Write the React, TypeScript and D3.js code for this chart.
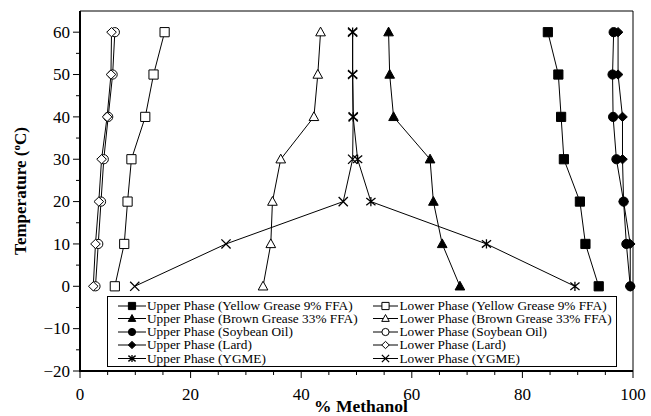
import React from 'react';
import * as d3 from 'd3';

const temps = [0, 10, 20, 30, 40, 50, 60];

const upperYellow = [93.8, 91.4, 90.4, 87.5, 87.0, 86.5, 84.6];
const upperBrown = [68.7, 65.5, 63.9, 63.3, 56.7, 56.0, 55.8];
const upperSoy = [99.5, 98.8, 98.3, 97.0, 96.4, 96.3, 96.5];
const upperLard = [99.5, 99.5, 98.3, 98.1, 98.1, 97.3, 97.3];
const upperYGME = [89.5, 73.5, 52.6, 50.2, 49.4, 49.3, 49.3];

const lowerYellow = [6.3, 8.0, 8.6, 9.3, 11.8, 13.3, 15.3];
const lowerBrown = [33.1, 34.5, 34.8, 36.3, 42.3, 43.0, 43.5];
const lowerSoy = [2.8, 3.3, 3.8, 4.3, 5.1, 5.9, 6.3];
const lowerLard = [2.4, 2.8, 3.4, 3.9, 4.9, 5.6, 5.7];
const lowerYGME = [9.9, 26.4, 47.6, 49.3, 49.4, 49.3, 49.3];

const xTicks = [0, 20, 40, 60, 80, 100];
const yTicks = [-20, -10, 0, 10, 20, 30, 40, 50, 60];

const upperSeries = [
  { name: 'Upper Phase (Yellow Grease 9% FFA)', values: upperYellow, shape: 'square' },
  { name: 'Upper Phase (Brown Grease 33% FFA)', values: upperBrown, shape: 'triangle' },
  { name: 'Upper Phase (Soybean Oil)', values: upperSoy, shape: 'circle' },
  { name: 'Upper Phase (Lard)', values: upperLard, shape: 'diamond' },
  { name: 'Upper Phase (YGME)', values: upperYGME, shape: 'asterisk' },
];
const lowerSeries = [
  { name: 'Lower Phase (Yellow Grease 9% FFA)', values: lowerYellow, shape: 'square' },
  { name: 'Lower Phase (Brown Grease 33% FFA)', values: lowerBrown, shape: 'triangle' },
  { name: 'Lower Phase (Soybean Oil)', values: lowerSoy, shape: 'circle' },
  { name: 'Lower Phase (Lard)', values: lowerLard, shape: 'diamond' },
  { name: 'Lower Phase (YGME)', values: lowerYGME, shape: 'x' },
];

const font = "'Liberation Serif'";

// marker path centred on 0,0 with half-size r
function markerPath(shape: string, r: number) {
  switch (shape) {
    case 'square':
      return `M${-r},${-r}H${r}V${r}H${-r}Z`;
    case 'triangle':
      return `M0,${-r * 1.1}L${r * 1.05},${r * 0.8}L${-r * 1.05},${r * 0.8}Z`;
    case 'diamond':
      return `M0,${-r}L${r * 1.05},0L0,${r}L${-r * 1.05},0Z`;
    case 'x':
      return `M${-r},${-r}L${r},${r}M${-r},${r}L${r},${-r}`;
    case 'asterisk':
      return `M${-r},${-r * 0.8}L${r},${r * 0.8}M${-r},${r * 0.8}L${r},${-r * 0.8}M0,${-r}V${r}`;
    default:
      return '';
  }
}

function Marker({ shape, filled, x, y, r }: { shape: string; filled: boolean; x: number; y: number; r: number }) {
  const fill = filled ? '#000' : '#fff';
  if (shape === 'circle') {
    return <circle cx={x} cy={y} r={r} fill={fill} stroke="#000" strokeWidth={1} />;
  }
  const open = shape === 'x' || shape === 'asterisk';
  return (
    <path
      d={markerPath(shape, r)}
      transform={`translate(${x},${y})`}
      fill={open ? 'none' : fill}
      stroke="#000"
      strokeWidth={open ? 1.3 : 1}
    />
  );
}

export default function App() {
  const width = 651;
  const height = 416;
  const x = d3.scaleLinear().domain([0, 100]).range([80, 633]);
  const y = d3.scaleLinear().domain([-20, 65]).range([371, 11]);

  const line = d3
    .line<number>()
    .x((d) => x(d))
    .y((_, i) => y(temps[i]));

  const xMinor = d3.range(0, 101, 5);
  const yMinor = d3.range(-20, 61, 5);

  const all = [
    ...upperSeries.map((s) => ({ ...s, filled: true })),
    ...lowerSeries.map((s) => ({ ...s, filled: false })),
  ];

  const legendRows = [306, 318.5, 332, 345, 358.5];
  const txt = { fontFamily: font };

  return (
    <svg width={width} height={height} style={{ position: 'absolute', left: 0, top: 0 }}>
      <rect x={0} y={0} width={width} height={height} fill="#fff" />

      {/* frame */}
      <line x1={x(0)} x2={x(100)} y1={y(65)} y2={y(65)} stroke="#000" strokeWidth={1} />
      <line x1={x(100)} x2={x(100)} y1={y(65)} y2={y(-20)} stroke="#000" strokeWidth={1} />

      {/* series */}
      {all.map((s) => (
        <g key={s.name}>
          <path d={line(s.values) || ''} fill="none" stroke="#000" strokeWidth={1} />
          {s.values.map((v, i) => (
            <Marker key={i} shape={s.shape} filled={s.filled} x={x(v)} y={y(temps[i])} r={4.6} />
          ))}
        </g>
      ))}

      {/* legend */}
      <rect x={107.5} y={296.5} width={509} height={70} fill="#fff" stroke="#000" strokeWidth={1} />
      {upperSeries.map((s, i) => (
        <g key={s.name}>
          <line x1={118} x2={146} y1={legendRows[i]} y2={legendRows[i]} stroke="#000" />
          <Marker shape={s.shape} filled x={132} y={legendRows[i]} r={3.6} />
          <text x={147} y={legendRows[i] + 4.3} fontSize={13.3} style={txt}>{s.name}</text>
        </g>
      ))}
      {lowerSeries.map((s, i) => (
        <g key={s.name}>
          <line x1={373} x2={398} y1={legendRows[i]} y2={legendRows[i]} stroke="#000" />
          <Marker shape={s.shape} filled={false} x={385.5} y={legendRows[i]} r={3.6} />
          <text x={399.5} y={legendRows[i] + 4.3} fontSize={13.3} style={txt}>{s.name}</text>
        </g>
      ))}

      {/* x axis */}
      <line x1={x(0) - 1} x2={x(100)} y1={y(-20)} y2={y(-20)} stroke="#000" strokeWidth={2} />
      {xMinor.map((t) => (
        <line key={t} x1={x(t)} x2={x(t)} y1={y(-20)} y2={y(-20) + (t % 20 === 0 ? 7 : 4)} stroke="#000" />
      ))}
      {xTicks.map((t) => (
        <text key={t} x={x(t)} y={400} fontSize={17} textAnchor="middle" style={txt}>{t}</text>
      ))}
      <text x={361} y={412} fontSize={17.5} fontWeight="bold" textAnchor="middle" style={txt}>% Methanol</text>

      {/* y axis */}
      <line x1={x(0)} x2={x(0)} y1={y(65)} y2={y(-20) + 1} stroke="#000" strokeWidth={2} />
      {yMinor.map((t) => (
        <line key={t} x1={x(0) - (t % 10 === 0 ? 7 : 4)} x2={x(0)} y1={y(t)} y2={y(t)} stroke="#000" />
      ))}
      {yTicks.map((t) => (
        <text key={t} x={70} y={y(t) + 5.8} fontSize={17} textAnchor="end" style={txt}>
          {t < 0 ? `\u2212${-t}` : t}
        </text>
      ))}
      <text transform={`translate(26,${(y(65) + y(-20)) / 2}) rotate(-90)`} fontSize={17} fontWeight="bold" textAnchor="middle" style={txt}>
        Temperature (<tspan dy={-6} fontSize={11}>o</tspan><tspan dy={6}>C)</tspan>
      </text>
    </svg>
  );
}
